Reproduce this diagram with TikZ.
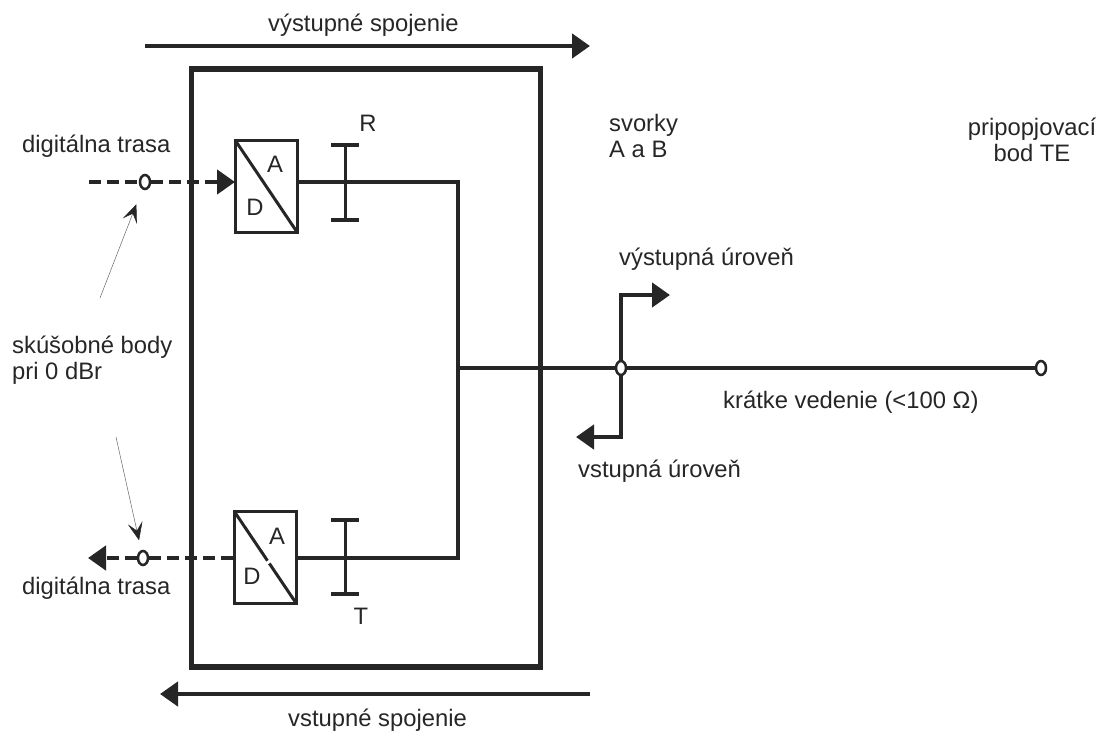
\documentclass[tikz,border=0pt]{standalone}
\usepackage{fontspec}
\setmainfont{Liberation Sans}
\usetikzlibrary{shapes.geometric, arrows.meta, positioning, calc}

\begin{document}
\begin{tikzpicture}[x=1pt, y=-1pt, >={Triangle[length=18pt,width=24pt]}]
        % Styles
        \tikzstyle{txt} = [inner sep=0pt, anchor=west, font=\fontsize{23.8pt}{26.5pt}\selectfont, text=black!85]
        \tikzstyle{conv} = [rectangle, draw=black!85, line width=3pt, inner sep=0pt, outer sep=0pt, minimum width=62pt, minimum height=92pt]
        \tikzstyle{port} = [ellipse, draw=black!85, fill=white, line width=2.5pt, inner sep=0pt, minimum width=10pt, minimum height=14pt]
        \tikzstyle{wire} = [draw=black!85, line width=4.5pt]
        \tikzstyle{dashwire} = [wire, dash pattern=on 12pt off 6pt]
        \tikzstyle{pointer} = [draw=black!60, line width=0.5pt, -{Stealth[length=18pt,width=15pt,inset=8pt,black!85]}]
        \tikzstyle{bar} = [draw=black!85, line width=3pt]

        \useasboundingbox (0,0) rectangle (1100,731);

        % Nodes
        \node (unit) [rectangle, draw=black!85, line width=5.5pt, inner sep=0pt, minimum width=349pt, minimum height=598pt] at (366,368) {};
        \node (dac) [conv] at (266,186) {};
        \node (adc) [conv] at (265,557) {};
        \node (tpin) [port] at (145,182) {};
        \node (tpout) [port] at (143,558) {};
        \node (tpmid) [port] at (621,368) {};
        \node (tpend) [port] at (1041,368) {};
        \coordinate (fromleft) at (89,182);
        \coordinate (toleft) at (88,558);
        \coordinate (joint) at (458,368);
        \coordinate (outlevel) at (670,295);
        \coordinate (inlevel) at (576,437);

        % Spojenia nad a pod blokom
        \coordinate (outa) at (145,46);
        \coordinate (outb) at (590,46);
        \coordinate (ina) at (590,694);
        \coordinate (inb) at (160,694);
        \path [wire, ->] (outa) -- (outb);
        \path [wire, ->] (ina) -- (inb);

        % Digitalne trasy
        \path [dashwire] (fromleft) -- (tpin);
        \path [dashwire, ->] (tpin) -- (tpin -| dac.west);
        \path [dashwire] (tpout) -- (tpout -| adc.west);
        \path [dashwire, ->] (tpout) -- (toleft);

        % Vetvy k bodu joint
        \path [wire] (tpin -| dac.east) -| (joint);
        \path [wire] (tpout -| adc.east) -| (joint);
        \path [wire] (joint) -- (tpmid);
        \path [wire] (tpmid) -- (tpend);
        \path [wire, ->] (tpmid) |- (outlevel);
        \path [wire, ->] (tpmid) |- (inlevel);

        % Uhlopriecky
        \draw [bar] (dac.north west) -- (dac.south east);
        \draw [bar] (adc.north west) -- ($(adc.north west)!0.54!(adc.south east)$);
        \draw [bar] ($(adc.north west)!0.57!(adc.south east)$) -- (adc.south east);
        \node (dacA) [txt, anchor=center] at (275,164) {A};
        \node (dacD) [txt, anchor=center] at (255,207) {D};
        \node (adcA) [txt, anchor=center] at (277,536) {A};
        \node (adcD) [txt, anchor=center] at (252,576) {D};

        % Priecky R a T
        \coordinate (rtop) at (345,145);
        \coordinate (rbot) at (345,220);
        \coordinate (ttop) at (345,520);
        \coordinate (tbot) at (345,594);
        \draw [bar] (rtop) -- (rbot);
        \draw [bar] (ttop) -- (tbot);
        \foreach \tick in {rtop, rbot, ttop, tbot}
            \draw [bar, line width=4.5pt] ($(\tick)+(-14,0)$) -- ($(\tick)+(14,0)$);

        % Texty
        \node (outconn) [txt] at (268,25) {výstupné spojenie};
        \node (inconn) [txt] at (288,720) {vstupné spojenie};
        \node (digin) [txt] at (22,146) {digitálna trasa};
        \node (digout) [txt] at (22,588) {digitálna trasa};
        \node (test) [txt, align=left] at (12,360) {skúšobné body\\pri 0 dBr};
        \node (rlabel) [txt, anchor=center] at (368,123) {R};
        \node (tlabel) [txt, anchor=center] at (361,616) {T};
        \node (clamps) [txt, align=left] at (609,136) {svorky\\A a B};
        \node (tepoint) [txt, align=center, anchor=center] at (1032,140) {pripopjovací\\bod TE};
        \node (outtext) [txt] at (619,259) {výstupná úroveň};
        \node (intext) [txt] at (578,471) {vstupná úroveň};
        \node (short) [txt] at (723,402) {krátke vedenie (<100 Ω)};

        % Tenke sipky
        \coordinate (testup) at (100,298);
        \coordinate (testdown) at (116,437);
        \path [pointer, shorten >=16pt] (testup) -- (tpin);
        \path [pointer, shorten >=10pt] (testdown) -- (tpout);
\end{tikzpicture}
\end{document}
